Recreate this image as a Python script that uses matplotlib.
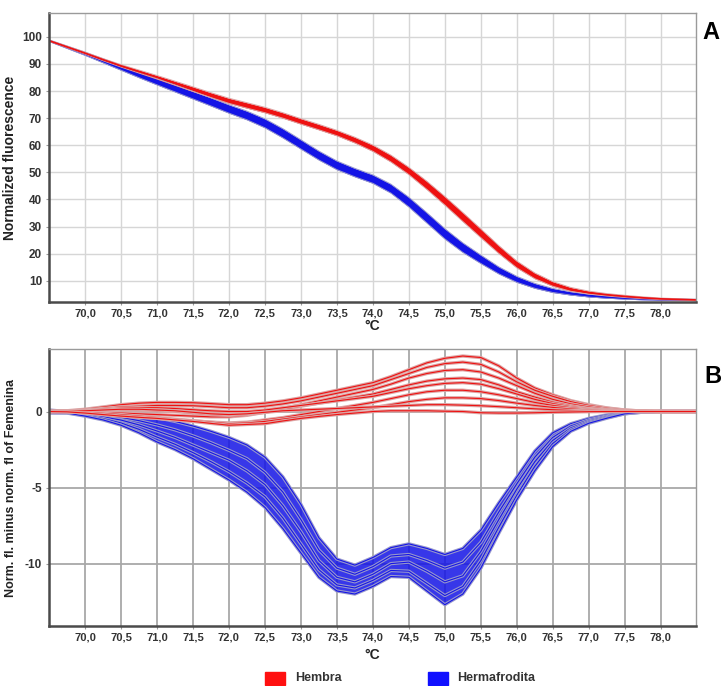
import numpy as np
import matplotlib
matplotlib.use("Agg")
import matplotlib.pyplot as plt
from matplotlib.patches import Rectangle
from matplotlib.ticker import FuncFormatter

plt.rcParams["font.family"] = ["Liberation Sans", "DejaVu Sans"]
plt.rcParams["axes.unicode_minus"] = False

# temperature sampling of the melt curves (°C)
temps = np.arange(69.5, 78.51, 0.25)

# panel A: normalized fluorescence, band centre and band thickness per group
hembra_a = [98.6, 96.3, 94.0, 91.6, 89.3, 87.2, 85.1, 82.9, 80.7, 78.5, 76.4,
            74.7, 73.0, 71.0, 68.8, 66.7, 64.5, 61.9, 58.9, 55.1, 50.5, 45.2,
            39.5, 33.5, 27.5, 21.5, 16.0, 11.8, 8.8, 6.8, 5.6, 4.8, 4.2, 3.7,
            3.3, 3.1, 2.9]
hembra_a_width = [0.5, 0.6, 0.7, 0.8, 0.9, 1.1, 1.3, 1.5, 1.7, 1.8, 1.9, 2.0,
                  2.0, 2.0, 2.0, 2.0, 2.0, 2.1, 2.3, 2.5, 2.7, 3.0, 3.2, 3.3,
                  3.2, 2.9, 2.5, 2.1, 1.7, 1.4, 1.1, 0.9, 0.8, 0.7, 0.6, 0.5,
                  0.5]
hermafrodita_a = [98.6, 96.2, 93.8, 91.2, 88.6, 86.0, 83.5, 81.0, 78.5, 76.0,
                  73.4, 71.0, 68.1, 64.4, 60.3, 56.2, 52.6, 49.9, 47.5, 44.0,
                  39.0, 33.2, 27.3, 22.2, 17.9, 13.8, 10.5, 8.1, 6.4, 5.3, 4.5,
                  4.0, 3.6, 3.3, 3.1, 3.0, 2.9]
hermafrodita_a_width = [0.6, 0.9, 1.2, 1.5, 1.8, 2.1, 2.4, 2.6, 2.8, 3.0, 3.1,
                        3.2, 3.3, 3.4, 3.4, 3.3, 3.2, 3.1, 3.1, 3.3, 3.6, 3.8,
                        3.8, 3.5, 3.1, 2.6, 2.2, 1.8, 1.5, 1.2, 1.0, 0.9, 0.8,
                        0.7, 0.6, 0.5, 0.5]

# panel B: difference curves (norm. fl. minus norm. fl of Femenina)
hermafrodita_b_top = [0.1, 0.0, -0.05, -0.1, -0.15, -0.25, -0.4, -0.65, -0.95,
                      -1.3, -1.7, -2.2, -3.0, -4.3, -6.1, -8.3, -9.7, -10.1,
                      -9.6, -8.95, -8.7, -9.0, -9.4, -9.0, -7.8, -6.0, -4.3,
                      -2.6, -1.4, -0.8, -0.45, -0.22, -0.08, -0.02, 0.0, 0.0,
                      0.0]
hermafrodita_b_1 = [0.04, -0.03, -0.13, -0.24, -0.38, -0.6, -0.88, -1.2, -1.6,
                    -2.05, -2.55, -3.1, -4.0, -5.3, -7.1, -9.1, -10.3, -10.7,
                    -10.2, -9.5, -9.4, -9.8, -10.3, -9.9, -8.6, -6.6, -4.75,
                    -3.0, -1.7, -0.95, -0.55, -0.29, -0.1, -0.02, 0.0, 0.0,
                    0.0]
hermafrodita_b_2 = [0.0, -0.05, -0.19, -0.35, -0.56, -0.88, -1.28, -1.7, -2.2,
                    -2.7, -3.2, -3.9, -4.8, -6.2, -7.9, -9.8, -10.9, -11.2,
                    -10.7, -10.0, -9.9, -10.5, -11.2, -10.8, -9.2, -7.1, -5.1,
                    -3.3, -1.9, -1.08, -0.63, -0.34, -0.12, -0.03, 0.0, 0.0,
                    0.0]
hermafrodita_b_3 = [-0.06, -0.08, -0.25, -0.46, -0.75, -1.17, -1.68, -2.15,
                    -2.7, -3.3, -3.95, -4.7, -5.6, -7.0, -8.7, -10.4, -11.4,
                    -11.6, -11.1, -10.45, -10.5, -11.3, -12.1, -11.5, -9.8,
                    -7.6, -5.5, -3.6, -2.1, -1.2, -0.7, -0.4, -0.14, -0.04,
                    0.0, 0.0, 0.0]
hermafrodita_b_bottom = [-0.1, -0.1, -0.3, -0.55, -0.9, -1.4, -2.0, -2.5, -3.1,
                         -3.8, -4.5, -5.3, -6.3, -7.7, -9.3, -10.9, -11.8,
                         -12.0, -11.5, -10.85, -10.9, -11.8, -12.7, -12.0,
                         -10.3, -8.0, -5.8, -3.9, -2.3, -1.3, -0.77, -0.44,
                         -0.15, -0.04, 0.0, 0.0, 0.0]

hembra_b = [
    [0, 0.05, 0.15, 0.3, 0.45, 0.55, 0.6, 0.6, 0.58, 0.52, 0.45, 0.45, 0.55,
     0.7, 0.9, 1.15, 1.4, 1.65, 1.9, 2.3, 2.75, 3.2, 3.5, 3.65, 3.55, 3.0, 2.2,
     1.55, 1.1, 0.72, 0.45, 0.24, 0.1, 0.03, 0, 0, 0],
    [0, 0.03, 0.1, 0.2, 0.3, 0.35, 0.4, 0.4, 0.38, 0.32, 0.25, 0.25, 0.35, 0.5,
     0.7, 0.95, 1.2, 1.45, 1.7, 2.1, 2.5, 2.9, 3.15, 3.25, 3.1, 2.6, 1.95, 1.4,
     1.0, 0.65, 0.4, 0.22, 0.09, 0.03, 0, 0, 0],
    [0, 0.0, -0.02, -0.05, -0.1, -0.15, -0.2, -0.25, -0.3, -0.35, -0.35, -0.25,
     -0.05, 0.2, 0.45, 0.7, 0.95, 1.2, 1.45, 1.8, 2.2, 2.5, 2.7, 2.75, 2.6,
     2.2, 1.7, 1.2, 0.8, 0.5, 0.3, 0.15, 0.06, 0.02, 0, 0, 0],
    [0, 0.02, 0.05, 0.08, 0.1, 0.1, 0.05, 0.0, -0.1, -0.2, -0.25, -0.2, -0.05,
     0.15, 0.35, 0.55, 0.75, 0.95, 1.15, 1.45, 1.75, 2.0, 2.15, 2.2, 2.1, 1.75,
     1.3, 0.95, 0.62, 0.38, 0.2, 0.1, 0.04, 0.01, 0, 0, 0],
    [0, 0.02, 0.08, 0.15, 0.22, 0.25, 0.25, 0.2, 0.12, 0.05, 0.0, 0.0, 0.1,
     0.25, 0.4, 0.55, 0.7, 0.85, 1.0, 1.25, 1.5, 1.7, 1.85, 1.9, 1.8, 1.5,
     1.15, 0.8, 0.52, 0.32, 0.18, 0.09, 0.04, 0.01, 0, 0, 0],
    [0, -0.02, -0.08, -0.15, -0.25, -0.35, -0.45, -0.55, -0.62, -0.7, -0.75,
     -0.7, -0.55, -0.4, -0.2, 0.0, 0.2, 0.4, 0.6, 0.85, 1.1, 1.3, 1.4, 1.4,
     1.3, 1.1, 0.85, 0.6, 0.4, 0.25, 0.14, 0.07, 0.03, 0.01, 0, 0, 0],
    [0, 0.0, -0.05, -0.12, -0.2, -0.3, -0.4, -0.5, -0.6, -0.7, -0.8, -0.75,
     -0.65, -0.5, -0.35, -0.2, -0.05, 0.1, 0.25, 0.45, 0.65, 0.8, 0.9, 0.9,
     0.85, 0.72, 0.55, 0.4, 0.27, 0.17, 0.1, 0.05, 0.02, 0.0, 0, 0, 0],
    [0, 0.01, 0.05, 0.1, 0.15, 0.15, 0.1, 0.05, -0.05, -0.15, -0.2, -0.15,
     -0.05, 0.05, 0.1, 0.15, 0.2, 0.25, 0.3, 0.35, 0.4, 0.45, 0.45, 0.42,
     0.38, 0.32, 0.25, 0.18, 0.12, 0.07, 0.04, 0.02, 0.01, 0, 0, 0, 0],
    [0, -0.02, -0.1, -0.2, -0.3, -0.38, -0.45, -0.55, -0.65, -0.78, -0.9,
     -0.85, -0.8, -0.62, -0.45, -0.32, -0.2, -0.1, 0.0, 0.05, 0.05, 0.05, 0.02,
     0.0, -0.08, -0.1, -0.1, -0.08, -0.05, -0.03, -0.01, 0, 0, 0, 0, 0, 0],
]

x_ticks = np.arange(70.0, 78.01, 0.5)
ya_ticks = [10, 20, 30, 40, 50, 60, 70, 80, 90, 100]
yb_ticks = [0, -5, -10]

RED = "#ee1111"
RED_HALO = "#dca4a4"
BLUE = "#1414e6"
BLUE_HALO = "#9898cc"


def comma_fmt(v, pos):
    return f"{v:.1f}".replace(".", ",")


def style_axes(ax, grid_color, grid_lw, xlabel_pad):
    ax.set_xlim(69.5, 78.49)
    ax.set_xticks(x_ticks)
    ax.xaxis.set_major_formatter(FuncFormatter(comma_fmt))
    ax.grid(True, color=grid_color, linewidth=grid_lw)
    ax.set_axisbelow(True)
    for side in ["left", "bottom"]:
        ax.spines[side].set_color("#4a4a4a")
        ax.spines[side].set_linewidth(1.8)
    for side in ["top", "right"]:
        ax.spines[side].set_color("#9a9a9a")
        ax.spines[side].set_linewidth(1.0)
    ax.tick_params(length=2, width=0.8, color="#9a9a9a", pad=3,
                   labelcolor="#333333")
    ax.tick_params(axis="x", labelsize=8)
    ax.tick_params(axis="y", labelsize=8.5)
    for lab in ax.get_xticklabels() + ax.get_yticklabels():
        lab.set_fontweight("bold")
    ax.set_xlabel("°C", fontsize=10, fontweight="bold", color="#222222",
                  labelpad=xlabel_pad)


def draw_curve(ax, y, color, halo, lw=0.8):
    ax.plot(temps, y, color=halo, linewidth=lw + 1.6, solid_capstyle="round")
    ax.plot(temps, y, color=color, linewidth=lw)


fig = plt.figure(figsize=(7.27, 6.86), dpi=100)
ax_a = fig.add_axes([0.0674, 0.560, 0.8900, 0.421])
ax_b = fig.add_axes([0.0674, 0.0875, 0.8900, 0.4035])

# ---- panel A
for centre, width, color, halo in [
        (hermafrodita_a, hermafrodita_a_width, BLUE, BLUE_HALO),
        (hembra_a, hembra_a_width, RED, RED_HALO)]:
    c = np.array(centre)
    w = np.array(width) / 2
    ax_a.fill_between(temps, c - w, c + w, color=color, linewidth=0)
    ax_a.plot(temps, c + w, color=halo, linewidth=0.7)
    ax_a.plot(temps, c - w, color=halo, linewidth=0.7)
    ax_a.plot(temps, c, color=color, linewidth=1.2)

ax_a.set_ylim(2.2, 108.8)
ax_a.set_yticks(ya_ticks)
style_axes(ax_a, "#d6d6d6", 1.0, 0)
ax_a.set_ylabel("Normalized fluorescence", fontsize=10, fontweight="bold",
                color="#222222")
ax_a.yaxis.set_label_coords(-32 / 647, 0.5)

# ---- panel B
ax_b.fill_between(temps, hermafrodita_b_bottom, hermafrodita_b_top,
                  color=BLUE, alpha=0.85, linewidth=0)
for curve in [hermafrodita_b_top, hermafrodita_b_1, hermafrodita_b_2,
              hermafrodita_b_3, hermafrodita_b_bottom]:
    draw_curve(ax_b, curve, BLUE, BLUE_HALO)
for curve in hembra_b:
    draw_curve(ax_b, curve, RED, RED_HALO)

ax_b.set_ylim(-14.1, 4.1)
ax_b.set_yticks(yb_ticks)
style_axes(ax_b, "#a8a8a8", 1.3, 4)
ax_b.set_ylabel("Norm. fl. minus norm. fl of Femenina", fontsize=9,
                fontweight="bold", color="#222222")
ax_b.yaxis.set_label_coords(-32 / 647, 0.5)

# panel letters
fig.text(0.978, 0.952, "A", fontsize=17, fontweight="bold", ha="center",
         va="center")
fig.text(0.981, 0.451, "B", fontsize=17, fontweight="bold", ha="center",
         va="center")

# legend
fig.patches.append(Rectangle((265 / 727, 1 - 685 / 686), 20 / 727, 13 / 686,
                             transform=fig.transFigure, color="#ff1010"))
fig.text(295 / 727, 1 - 678 / 686, "Hembra", fontsize=9, fontweight="bold",
         color="#333333", va="center")
fig.patches.append(Rectangle((428 / 727, 1 - 685 / 686), 20 / 727, 13 / 686,
                             transform=fig.transFigure, color="#1010ff"))
fig.text(457 / 727, 1 - 678 / 686, "Hermafrodita", fontsize=9,
         fontweight="bold", color="#333333", va="center")

fig.savefig("out.png", dpi=100)
